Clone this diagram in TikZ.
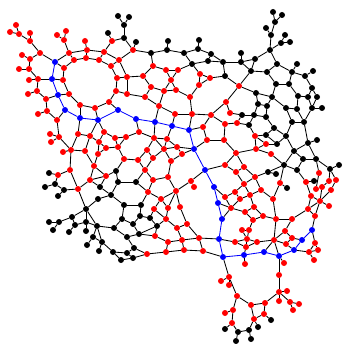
\documentclass[tikz,border=0pt]{standalone}
\usepackage{xcolor}
\usetikzlibrary{backgrounds}
\begin{document}
\begin{tikzpicture}[
  x=1pt, y=-1pt,
  vertex/.style={circle, inner sep=0pt, minimum size=6pt},
  rednode/.style={vertex, fill=red},
  bluenode/.style={vertex, fill=blue},
  blacknode/.style={vertex, fill=black},
  link/.style={draw=black, line width=0.85pt},
  bluelink/.style={draw=blue, line width=0.85pt}
]
\useasboundingbox (0,0) rectangle (343,344);

\foreach \x/\y in {16/25,10/32,19/34,30/33,30/41,40/53,22/55,30/59,19/69,29/69,29/80,38/79,28/94,37/91,46/99,38/114,47/111,57/120,
  57/35,66/31,64/40,69/53,74/60,64/68,63/80,69/94,80/105,95/108,109/102,116/91,117/78,111/66,99/60,86/58,87/50,85/41,104/52,112/41,119/60,
  133/50,153/66,166/70,178/70,171/80,176/90,164/91,151/87,143/76,127/77,127/94,145/97,159/106,175/114,192/114,211/115,226/102,230/113,190/97,199/85,210/78,200/74,239/86,
  59/137,50/134,51/142,78/134,90/136,104/132,115/138,99/142,106/148,118/147,71/150,85/151,98/154,63/152,94/166,70/170,58/175,106/176,90/180,78/189,
  139/132,126/137,154/138,167/139,164/149,147/150,177/147,182/154,171/161,153/158,138/160,124/159,145/170,168/177,153/180,148/192,176/191,191/181,194/187,161/199,154/209,168/208,180/207,166/219,187/224,177/228,
  203/127,207/140,224/140,225/124,225/165,236/153,237/123,
  255/136,266/144,256/149,271/154,244/167,236/172,255/177,244/184,280/183,306/182,319/173,329/181,336/180,322/187,316/189,331/190,235/192,225/197,261/190,250/195,240/199,273/199,311/196,320/201,329/206,231/208,254/207,245/212,263/216,253/220,308/209,315/216,276/219,292/219,242/230,249/230,285/231,
  155/236,168/242,182/240,199/238,235/242,247/239,257/242,246/247,245/264,147/254,166/252,184/250,203/251,
  229/277,221/281,229/285,237/296,251/305,233/310,225/313,232/323,254/319,
  292/238,274/240,286/244,315/243,318/250,309/252,314/260,284/263,279/275,279/292,287/291,279/301,290/302,299/304,293/310,265/303,264/314}
  \node[rednode] (v\x-\y) at (\x,\y) {};

\foreach \x/\y in {108/33,118/16,129/17,124/25,124/38,136/42,151/53,167/50,168/41,184/53,198/49,199/40,211/54,192/64,208/61,223/62,225/76,
  273/12,282/15,275/22,266/28,271/35,285/35,281/43,290/42,270/50,241/53,255/59,241/62,251/71,277/64,297/64,292/72,267/72,313/71,305/76,276/84,289/84,312/88,256/93,298/96,308/97,317/97,272/97,258/104,267/106,286/108,297/109,312/108,322/108,242/115,254/115,266/117,
  249/125,274/128,292/122,304/122,266/135,286/136,308/143,317/140,277/144,294/151,303/159,316/159,284/165,297/170,330/169,339/165,268/172,276/174,314/181,287/188,
  49/173,55/184,45/187,64/190,58/196,116/171,118/182,100/187,111/195,98/199,86/209,72/217,59/222,49/222,53/230,75/225,86/222,97/226,69/232,86/231,
  136/182,124/205,141/205,140/216,122/219,114/228,133/224,150/218,157/226,139/234,127/237,134/248,113/252,127/253,121/260,133/258,
  93/237,102/242,87/245,99/251,
  225/329,238/332,249/330,236/341,251/339,258/327,271/320}
  \node[blacknode] (v\x-\y) at (\x,\y) {};

\foreach \x/\y in {55/62,52/79,58/95,65/110,80/118,98/120,118/110,136/119,155/122,172/126,189/130,194/149,205/170,214/187,218/203,222/219,219/239,223/257,244/255,264/252,279/256,294/250,302/240,312/230}
  \node[bluenode] (v\x-\y) at (\x,\y) {};

\begin{scope}[on background layer]
\foreach \a/\b in {16-25/19-34,10-32/19-34,19-34/30-41,30-33/30-41,30-41/40-53,40-53/55-62,40-53/30-59,22-55/30-59,30-59/29-69,19-69/29-69,29-69/38-79,29-80/38-79,38-79/52-79,38-79/37-91,28-94/37-91,37-91/46-99,46-99/58-95,46-99/47-111,38-114/47-111,47-111/57-120,57-120/65-110,57-120/59-137,
  55-62/64-68,55-62/69-53,69-53/74-60,74-60/64-68,64-68/63-80,52-79/63-80,63-80/69-94,58-95/69-94,69-94/80-105,80-105/80-118,80-105/95-108,95-108/98-120,95-108/109-102,109-102/118-110,109-102/116-91,116-91/117-78,117-78/111-66,111-66/99-60,99-60/86-58,86-58/74-60,86-58/87-50,87-50/85-41,87-50/69-53,87-50/104-52,104-52/99-60,104-52/112-41,104-52/119-60,112-41/108-33,64-40/57-35,64-40/66-31,64-40/69-53,119-60/111-66,
  118-16/124-25,129-17/124-25,124-25/124-38,124-38/112-41,124-38/133-50,136-42/133-50,133-50/119-60,133-50/151-53,151-53/167-50,151-53/153-66,167-50/168-41,167-50/184-53,184-53/198-49,184-53/192-64,198-49/199-40,198-49/211-54,211-54/223-62,211-54/208-61,192-64/208-61,208-61/223-62,192-64/200-74,223-62/225-76,225-76/210-78,223-62/241-62,225-76/239-86,192-64/178-70,178-70/166-70,178-70/171-80,166-70/153-66,166-70/171-80,153-66/143-76,143-76/127-77,143-76/151-87,171-80/164-91,171-80/176-90,164-91/151-87,164-91/176-90,164-91/159-106,151-87/145-97,145-97/127-94,145-97/159-106,127-77/127-94,127-77/117-78,127-77/119-60,116-91/127-94,176-90/190-97,190-97/199-85,199-85/210-78,199-85/200-74,200-74/210-78,190-97/192-114,159-106/175-114,175-114/192-114,192-114/211-115,211-115/226-102,226-102/230-113,226-102/239-86,159-106/155-122,175-114/172-126,192-114/189-130,211-115/203-127,211-115/225-124,
  273-12/275-22,282-15/275-22,275-22/271-35,266-28/271-35,271-35/270-50,285-35/281-43,290-42/281-43,281-43/270-50,270-50/255-59,270-50/277-64,255-59/241-62,255-59/251-71,241-53/241-62,241-62/251-71,251-71/267-72,251-71/239-86,267-72/277-64,267-72/276-84,277-64/292-72,292-72/289-84,292-72/297-64,292-72/305-76,276-84/289-84,276-84/272-97,289-84/298-96,305-76/313-71,305-76/312-88,312-88/308-97,312-88/317-97,298-96/308-97,298-96/297-109,308-97/312-108,317-97/312-108,312-108/322-108,312-108/304-122,286-108/297-109,272-97/286-108,272-97/256-93,272-97/267-106,256-93/239-86,256-93/258-104,258-104/267-106,258-104/254-115,267-106/266-117,254-115/266-117,254-115/242-115,242-115/230-113,286-108/292-122,297-109/304-122,292-122/304-122,
  225-124/237-123,237-123/242-115,237-123/249-125,249-125/254-115,249-125/255-136,225-124/224-140,224-140/236-153,224-140/207-140,203-127/207-140,203-127/189-130,207-140/194-149,225-165/236-153,225-165/205-170,236-153/256-149,236-153/244-167,256-149/255-136,256-149/266-144,256-149/271-154,255-136/266-135,255-136/266-144,266-144/277-144,266-135/274-128,266-135/277-144,277-144/286-136,274-128/286-136,274-128/266-117,286-136/292-122,286-136/294-151,304-122/308-143,308-143/317-140,308-143/294-151,308-143/316-159,294-151/303-159,294-151/284-165,303-159/316-159,303-159/297-170,297-170/284-165,271-154/284-165,284-165/268-172,284-165/280-183,268-172/255-177,268-172/276-174,255-177/244-167,255-177/244-184,255-177/261-190,244-184/236-172,244-184/235-192,244-184/250-195,261-190/250-195,261-190/273-199,280-183/287-188,280-183/273-199,273-199/276-219,236-172/225-165,236-172/244-167,250-195/240-199,250-195/254-207,254-207/263-216,254-207/245-212,245-212/253-220,245-212/231-208,253-220/263-216,263-216/276-219,276-219/292-219,276-219/274-240,292-219/308-209,292-219/285-231,235-192/225-197,235-192/240-199,240-199/231-208,225-197/231-208,214-187/225-197,218-203/231-208,231-208/222-219,316-159/330-169,316-159/319-173,330-169/339-165,330-169/329-181,330-169/336-180,297-170/306-182,306-182/314-181,306-182/311-196,319-173/316-189,329-181/322-187,336-180/331-190,322-187/316-189,322-187/320-201,331-190/320-201,311-196/320-201,320-201/329-206,320-201/308-209,311-196/308-209,320-201/315-216,308-209/315-216,315-216/312-230,
  139-132/136-119,139-132/126-137,139-132/154-138,154-138/155-122,154-138/167-139,154-138/147-150,154-138/164-149,167-139/172-126,167-139/164-149,167-139/177-147,126-137/115-138,126-137/118-147,115-138/118-147,118-147/124-159,124-159/138-160,124-159/116-171,138-160/147-150,138-160/145-170,147-150/153-158,153-158/164-149,153-158/145-170,164-149/177-147,177-147/194-149,177-147/182-154,182-154/194-149,182-154/171-161,164-149/171-161,171-161/168-177,168-177/153-180,168-177/176-191,145-170/153-180,153-180/148-192,148-192/136-182,136-182/118-182,136-182/145-170,148-192/161-199,161-199/176-191,176-191/191-181,191-181/194-187,191-181/205-170,176-191/180-207,176-191/168-208,161-199/154-209,161-199/168-208,154-209/166-219,168-208/166-219,166-219/177-228,166-219/157-226,180-207/187-224,187-224/177-228,187-224/199-238,148-192/141-205,141-205/124-205,141-205/140-216,124-205/122-219,124-205/111-195,122-219/133-224,122-219/114-228,140-216/133-224,140-216/150-218,150-218/157-226,150-218/154-209,157-226/139-234,157-226/155-236,133-224/139-234,139-234/127-237,139-234/155-236,
  155-236/168-242,168-242/182-240,168-242/166-252,182-240/199-238,182-240/184-250,182-240/177-228,199-238/203-251,199-238/219-239,219-239/235-242,235-242/247-239,235-242/246-247,247-239/242-230,247-239/249-230,247-239/257-242,247-239/246-247,242-230/249-230,249-230/253-220,246-247/257-242,246-247/244-255,244-255/245-264,203-251/223-257,184-250/203-251,166-252/184-250,147-254/166-252,257-242/274-240,223-257/229-277,229-277/221-281,229-277/229-285,229-277/237-296,237-296/251-305,237-296/233-310,233-310/225-313,233-310/232-323,232-323/225-329,232-323/238-332,238-332/249-330,238-332/236-341,249-330/251-339,249-330/254-319,254-319/258-327,251-305/254-319,251-305/265-303,265-303/264-314,254-319/264-314,264-314/271-320,265-303/279-292,279-292/287-291,279-292/279-301,279-292/290-302,290-302/299-304,290-302/293-310,279-275/279-292,279-256/279-275,279-256/284-263,274-240/279-256,274-240/264-252,274-240/285-231,274-240/286-244,285-231/292-238,292-238/286-244,292-238/302-240,286-244/294-250,312-230/315-243,315-243/318-250,315-243/309-252,309-252/294-250,309-252/318-250,309-252/314-260,
  59-137/50-134,59-137/51-142,59-137/71-150,71-150/63-152,71-150/78-134,71-150/85-151,71-150/70-170,78-134/80-118,78-134/90-136,90-136/98-120,90-136/85-151,90-136/99-142,98-120/104-132,104-132/115-138,104-132/99-142,99-142/106-148,99-142/98-154,98-154/106-148,85-151/94-166,98-154/94-166,106-148/118-147,94-166/106-176,94-166/90-180,90-180/106-176,90-180/78-189,70-170/58-175,70-170/78-189,58-175/49-173,58-175/55-184,55-184/45-187,55-184/64-190,64-190/58-196,64-190/78-189,78-189/86-209,90-180/100-187,100-187/111-195,100-187/106-176,98-199/111-195,98-199/86-209,106-176/116-171,116-171/118-182,118-182/111-195,86-209/72-217,86-209/86-222,86-209/97-226,72-217/59-222,72-217/75-225,59-222/49-222,59-222/53-230,75-225/69-232,75-225/86-222,86-222/86-231,86-222/97-226,
  97-226/93-237,97-226/102-242,97-226/114-228,93-237/87-245,93-237/102-242,102-242/99-251,102-242/113-252,113-252/127-253,113-252/121-260,127-253/134-248,127-253/133-258,121-260/133-258,133-258/147-254,134-248/147-254,134-248/127-237,127-237/114-228}
  \draw[link] (v\a) -- (v\b);
\foreach \a/\b in {55-62/52-79,52-79/58-95,58-95/65-110,65-110/80-118,80-118/98-120,98-120/118-110,118-110/136-119,136-119/155-122,155-122/172-126,172-126/189-130,189-130/194-149,194-149/205-170,205-170/214-187,214-187/218-203,218-203/222-219,222-219/219-239,219-239/223-257,223-257/244-255,244-255/264-252,264-252/279-256,279-256/294-250,294-250/302-240,302-240/312-230}
  \draw[bluelink] (v\a) -- (v\b);
\end{scope}
\end{tikzpicture}
\end{document}
